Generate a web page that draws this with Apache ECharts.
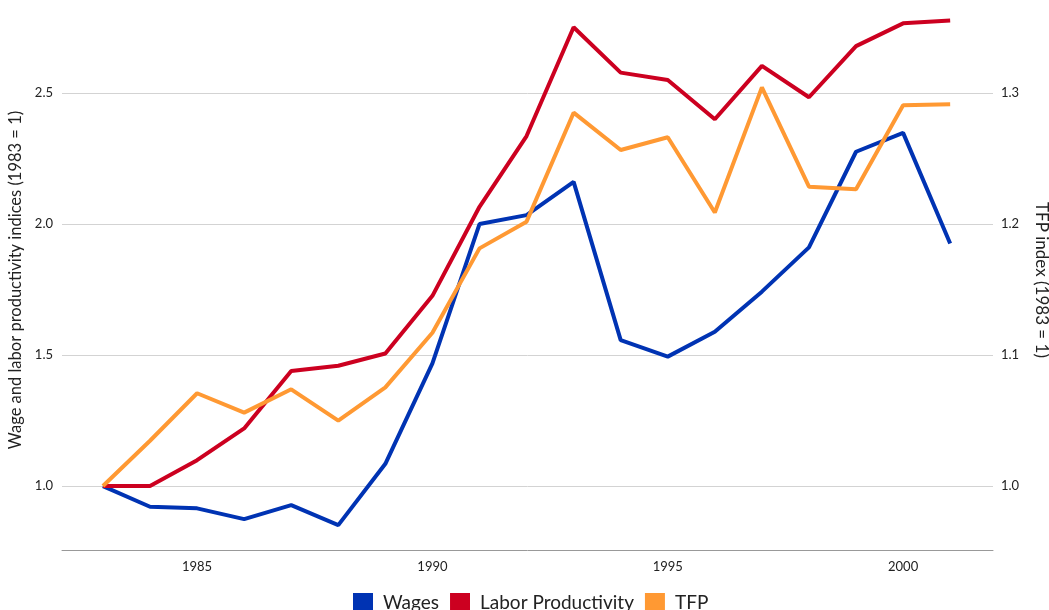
<!DOCTYPE html>
<html>
<head>
<meta charset="utf-8">
<script src="https://cdn.jsdelivr.net/npm/echarts@6/dist/echarts.min.js"></script>
<style>
  html, body { margin: 0; padding: 0; background: #fff; }
  #chart { width: 1049px; height: 610px; }
</style>
</head>
<body>
<div id="chart"></div>
<script>
// years on the x axis
const years = [1983, 1984, 1985, 1986, 1987, 1988, 1989, 1990, 1991, 1992,
  1993, 1994, 1995, 1996, 1997, 1998, 1999, 2000, 2001]

// wage index (left axis)
const wages = [1.0, 0.921, 0.915, 0.874, 0.927, 0.851, 1.085, 1.468, 2.0, 2.034,
  2.161, 1.557, 1.494, 1.589, 1.742, 1.911, 2.276, 2.348, 1.926]

// labor productivity index (left axis)
const laborProductivity = [1.0, 1.0, 1.099, 1.220, 1.439, 1.459, 1.506, 1.726, 2.066, 2.336,
  2.751, 2.578, 2.550, 2.400, 2.604, 2.484, 2.679, 2.766, 2.777]

// TFP index (right axis)
const tfp = [1.0, 1.0345, 1.0708, 1.056, 1.0738, 1.0499, 1.0753, 1.117, 1.1814, 1.2018,
  1.285, 1.2565, 1.2662, 1.2088, 1.3043, 1.2285, 1.2265, 1.2906, 1.2914]

// tick labels
const xTicks = [1985, 1990, 1995, 2000]
const leftTicks = [1.0, 1.5, 2.0, 2.5]
const rightTicks = [1.0, 1.1, 1.2, 1.3]

const FONT = 'Lato, "Noto Sans", sans-serif'

function pairs(values) {
  return years.map((y, i) => [y, values[i]])
}

const chart = echarts.init(document.getElementById('chart'))

const option = {
  animation: false,
  textStyle: { fontFamily: FONT },
  color: ['#0033b3', '#cc0020', '#ff9933'],
  legend: {
    bottom: -8,
    left: 348,
    icon: 'rect',
    itemWidth: 20,
    itemHeight: 20,
    itemGap: 11,
    textStyle: { fontSize: 19, color: '#222', fontFamily: FONT, padding: [0, 0, 0, 5] },
    data: ['Wages', 'Labor Productivity', 'TFP']
  },
  grid: {
    left: 62,
    right: 56,
    top: 10,
    bottom: 60,
    outerBoundsMode: 'none',
    containLabel: false
  },
  xAxis: {
    type: 'value',
    min: 1982.13,
    max: 2001.91,
    axisLine: { lineStyle: { color: '#999', width: 1 } },
    axisTick: { show: false },
    splitLine: { show: false },
    axisLabel: {
      customValues: xTicks,
      color: '#222',
      fontSize: 13,
      margin: 10,
      formatter: v => String(v)
    }
  },
  yAxis: [
    {
      type: 'value',
      min: 0.756,
      max: 2.817,
      name: 'Wage and labor productivity indices (1983 = 1)',
      nameLocation: 'middle',
      nameGap: 33,
      nameTextStyle: { fontSize: 16.5, color: '#222', fontFamily: FONT },
      axisLine: { show: false },
      axisTick: { show: false, customValues: leftTicks },
      splitLine: { show: true, lineStyle: { color: '#d3d3d3', width: 1 } },
      axisLabel: {
        customValues: leftTicks,
        color: '#222',
        fontSize: 13,
        margin: 9,
        formatter: v => v.toFixed(1)
      }
    },
    {
      type: 'value',
      position: 'right',
      min: 0.9511,
      max: 1.3634,
      name: 'TFP index (1983 = 1)',
      nameLocation: 'middle',
      nameGap: 40,
      nameRotate: -90,
      nameTextStyle: { fontSize: 17, color: '#222', fontFamily: FONT },
      axisLine: { show: false },
      axisTick: { show: false, customValues: rightTicks },
      splitLine: { show: false },
      axisLabel: {
        customValues: rightTicks,
        color: '#222',
        fontSize: 13,
        margin: 8,
        formatter: v => v.toFixed(1)
      }
    }
  ],
  series: [
    {
      name: 'Wages',
      type: 'line',
      yAxisIndex: 0,
      symbol: 'none',
      lineStyle: { width: 4 },
      data: pairs(wages)
    },
    {
      name: 'Labor Productivity',
      type: 'line',
      yAxisIndex: 0,
      symbol: 'none',
      lineStyle: { width: 4 },
      data: pairs(laborProductivity)
    },
    {
      name: 'TFP',
      type: 'line',
      yAxisIndex: 1,
      symbol: 'none',
      lineStyle: { width: 4 },
      data: pairs(tfp)
    }
  ]
}

chart.setOption(option)
</script>
</body>
</html>
